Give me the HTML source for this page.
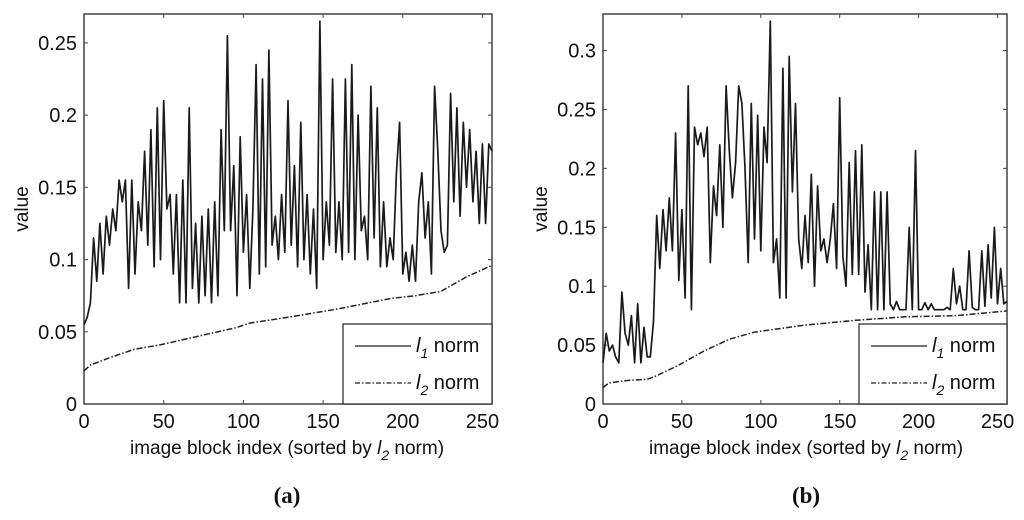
<!DOCTYPE html>
<html><head><meta charset="utf-8"><style>
html,body{margin:0;padding:0;background:#fff;}
svg{display:block;font-family:"Liberation Sans",Arial,sans-serif;}
</style></head><body>
<svg id="fig" width="1024" height="520" viewBox="0 0 1024 520"></svg>
<script>
const xTicks = [0, 50, 100, 150, 200, 250];
const yTicksA = [0, 0.05, 0.1, 0.15, 0.2, 0.25];
const yTickLabelsA = ["0", "0.05", "0.1", "0.15", "0.2", "0.25"];
const yTicksB = [0, 0.05, 0.1, 0.15, 0.2, 0.25, 0.3];
const yTickLabelsB = ["0", "0.05", "0.1", "0.15", "0.2", "0.25", "0.3"];
const l1IndexStep = 2;
const l1A = [0.055,0.06,0.07,0.115,0.085,0.125,0.09,0.13,0.11,0.135,0.12,0.155,0.14,0.155,0.08,0.155,0.09,0.14,0.12,0.175,0.11,0.19,0.095,0.205,0.10,0.21,0.135,0.145,0.09,0.145,0.07,0.155,0.07,0.205,0.08,0.125,0.07,0.13,0.075,0.135,0.07,0.14,0.075,0.19,0.12,0.255,0.12,0.165,0.075,0.185,0.105,0.145,0.08,0.135,0.235,0.09,0.225,0.095,0.245,0.11,0.13,0.10,0.145,0.105,0.21,0.11,0.165,0.095,0.195,0.1,0.145,0.09,0.135,0.08,0.265,0.1,0.14,0.11,0.225,0.105,0.14,0.1,0.225,0.105,0.235,0.10,0.2,0.12,0.13,0.1,0.22,0.115,0.205,0.095,0.14,0.095,0.115,0.1,0.16,0.195,0.09,0.105,0.085,0.11,0.085,0.14,0.16,0.115,0.14,0.09,0.22,0.175,0.12,0.105,0.11,0.215,0.14,0.205,0.13,0.195,0.15,0.19,0.14,0.175,0.125,0.18,0.125,0.18,0.175];
const l2AIdx = [0,4,16,32,48,64,80,96,104,128,160,192,208,224,240,256];
const l2A = [0.023,0.027,0.032,0.038,0.041,0.045,0.049,0.053,0.056,0.06,0.066,0.073,0.075,0.078,0.088,0.096];
const l1B = [0.035,0.06,0.045,0.05,0.04,0.035,0.095,0.06,0.05,0.075,0.035,0.085,0.035,0.065,0.04,0.04,0.07,0.16,0.115,0.165,0.13,0.175,0.13,0.23,0.105,0.165,0.09,0.27,0.08,0.235,0.22,0.23,0.21,0.235,0.12,0.185,0.16,0.22,0.15,0.27,0.215,0.175,0.205,0.27,0.255,0.2,0.12,0.255,0.14,0.245,0.13,0.235,0.205,0.325,0.12,0.14,0.09,0.285,0.09,0.295,0.18,0.255,0.14,0.115,0.16,0.12,0.195,0.1,0.185,0.13,0.14,0.12,0.14,0.17,0.115,0.26,0.125,0.1,0.205,0.11,0.215,0.11,0.22,0.095,0.135,0.08,0.18,0.08,0.18,0.08,0.18,0.085,0.08,0.087,0.08,0.08,0.08,0.15,0.08,0.215,0.08,0.08,0.086,0.08,0.085,0.08,0.08,0.08,0.08,0.082,0.08,0.115,0.085,0.1,0.08,0.08,0.13,0.082,0.08,0.08,0.13,0.083,0.135,0.09,0.15,0.085,0.115,0.085,0.087];
const l2BIdx = [0,4,16,28,34,48,64,80,96,112,128,160,192,224,256];
const l2B = [0.014,0.018,0.02,0.021,0.024,0.033,0.045,0.055,0.061,0.064,0.067,0.071,0.074,0.075,0.079];

const NS = "http://www.w3.org/2000/svg";
const svg = document.getElementById('fig');
function mk(tag, attrs, parent){
  const e = document.createElementNS(NS, tag);
  for (const k in attrs) e.setAttribute(k, attrs[k]);
  (parent||svg).appendChild(e);
  return e;
}
function panel(cfg){
  const g = mk('g', {});
  
  
  const L=cfg.x0, R=cfg.x1, T=14, B=404;
  const sx = v => L + (v/256)*(R-L);
  const sy = v => B - (v/cfg.ymax)*(B-T);
  mk('rect',{x:L,y:T,width:R-L,height:B-T,fill:'#fff',stroke:'#444','stroke-width':1.5},g);
  xTicks.forEach(t=>{
    const x=sx(t);
    mk('line',{x1:x,y1:B,x2:x,y2:B-4,stroke:'#444'},g);
    mk('line',{x1:x,y1:T,x2:x,y2:T+4,stroke:'#444'},g);
    const tx=mk('text',{x:x,y:428,'font-size':20,'text-anchor':'middle',fill:'#111'},g);
    tx.textContent=t;
    
    
  });
  cfg.yt.forEach((t,i)=>{
    const y=sy(t);
    mk('line',{x1:L,y1:y,x2:L+4,y2:y,stroke:'#444'},g);
    mk('line',{x1:R,y1:y,x2:R-4,y2:y,stroke:'#444'},g);
    const tx=mk('text',{x:L-7,y:y+7,'font-size':20,'text-anchor':'end',fill:'#111'},g);
    tx.textContent=cfg.ytl[i];
    
    
  });
  let d='';
  cfg.l1.forEach((v,i)=>{ d+=(i?'L':'M')+sx(i*l1IndexStep).toFixed(1)+','+sy(v).toFixed(1); });
  const p1=mk('path',{d:d,fill:'none',stroke:'#1a1a1a','stroke-width':1.7,'stroke-linejoin':'round'},g);
  
  
  let d2='';
  cfg.l2.forEach((v,i)=>{ d2+=(i?'L':'M')+sx(cfg.l2i[i]).toFixed(1)+','+sy(v).toFixed(1); });
  const p2=mk('path',{d:d2,fill:'none',stroke:'#222','stroke-width':1.5,'stroke-dasharray':'6,2,1.5,2'},g);
  
  
  const lg=mk('g',{},g);
  
  
  const lx=cfg.lx;
  mk('rect',{x:lx,y:324,width:R-lx,height:80,fill:'#fff',stroke:'#333','stroke-width':1.3},lg);
  mk('line',{x1:lx+12,y1:346,x2:lx+68,y2:346,stroke:'#222','stroke-width':1.3},lg);
  mk('line',{x1:lx+12,y1:383,x2:lx+68,y2:383,stroke:'#222','stroke-width':1.3,'stroke-dasharray':'5,2,1.5,2'},lg);
  [['1',352,'legend-entry-l1'],['2',389,'legend-entry-l2']].forEach(a=>{
    const t=mk('text',{x:lx+73,y:a[1],'font-size':20,fill:'#111'},lg);
    
    
    t.innerHTML='<tspan font-style="italic">l</tspan><tspan font-style="italic" font-size="14" dy="6">'+a[0]+'</tspan><tspan dy="-6"> norm</tspan>';
  });
  const xl=mk('text',{x:cfg.cx,y:454,'font-size':19,'text-anchor':'middle',fill:'#111'},g);
  
  
  xl.innerHTML='image block index (sorted by <tspan font-style="italic">l</tspan><tspan font-style="italic" font-size="14" dy="6">2</tspan><tspan dy="-6"> norm)</tspan>';
  const yl=mk('text',{x:0,y:0,'font-size':19,'text-anchor':'middle',fill:'#111',transform:'translate('+(L-56)+',209) rotate(-90)'},g);
  yl.textContent='value';
  
  
  const cap=mk('text',{x:cfg.cx,y:503,'font-size':23,'font-weight':'bold','text-anchor':'middle',fill:'#111','font-family':'Liberation Serif, serif'},g);
  cap.textContent=cfg.cap;
  
  
}
panel({name:'panel-a',x0:84,x1:492,ymax:0.27,yt:yTicksA,ytl:yTickLabelsA,l1:l1A,l2:l2A,l2i:l2AIdx,lx:343,cx:287,cap:'(a)'});
panel({name:'panel-b',x0:603,x1:1007,ymax:0.331,yt:yTicksB,ytl:yTickLabelsB,l1:l1B,l2:l2B,l2i:l2BIdx,lx:859,cx:806,cap:'(b)'});
</script>
</body></html>
